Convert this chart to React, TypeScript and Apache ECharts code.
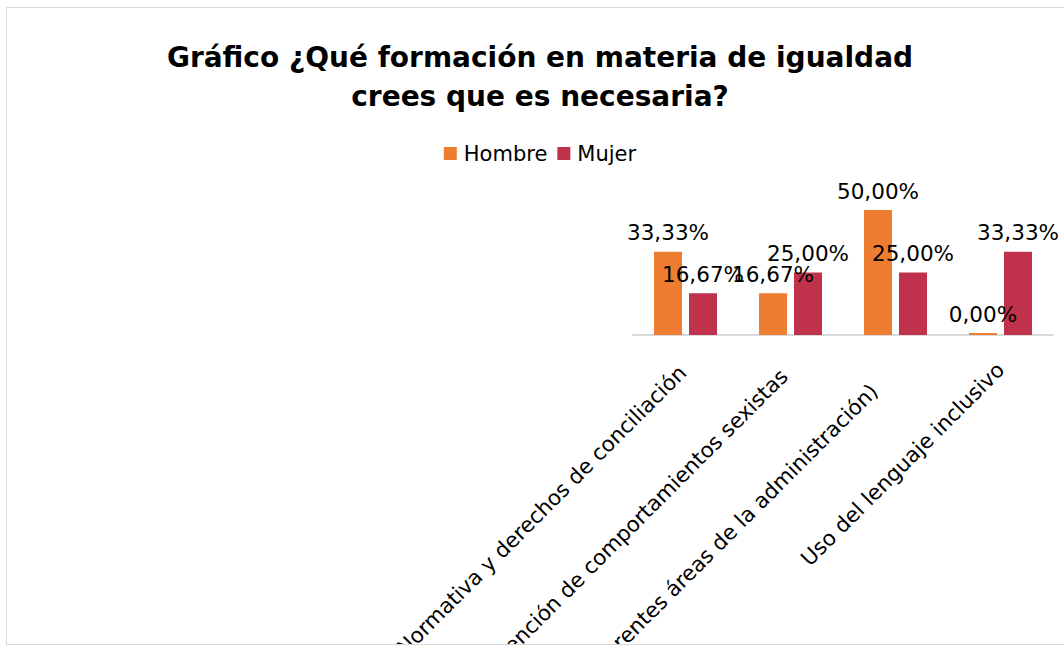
import React, { useEffect, useRef } from "react";
import * as echarts from "echarts";

const categories = [
  "Normativa y derechos de conciliación",
  "Prevención de comportamientos sexistas",
  "Específica (diferentes áreas de la administración)",
  "Uso del lenguaje inclusivo",
];
const hombre = [0.3333, 0.1667, 0.5, 0];
const mujer = [0.1667, 0.25, 0.25, 0.3333];
const seriesNames = ["Hombre", "Mujer"];
const titleText = "Gráfico ¿Qué formación en materia de igualdad\ncrees que es necesaria?";
// extra vertical drop (px) of each rotated category label, as in the reference
const labelDrop = [6, 13, 43, 0];

const fmt = (v: number) => (v * 100).toFixed(2).replace(".", ",") + "%";

export default function App() {
  const ref = useRef<HTMLDivElement>(null);
  useEffect(() => {
    if (!ref.current) return;
    const chart = echarts.init(ref.current, undefined, { renderer: "svg" });
    const font = "DejaVu Sans";
    const label = {
      show: true,
      position: "top",
      distance: 8,
      formatter: (p: any) => fmt(p.value),
      fontFamily: font,
      fontSize: 21.5,
      color: "#000",
    };
    const k = Math.SQRT1_2;
    const catData = categories.map((c, i) => ({
      value: c,
      textStyle: { padding: [2 * k * labelDrop[i], k * labelDrop[i], 0, 0] },
    }));
    chart.setOption({
      animation: false,
      backgroundColor: "#fff",
      title: {
        text: titleText,
        left: "center",
        top: 25,
        textStyle: {
          fontFamily: font,
          fontWeight: "bold",
          fontSize: 28,
          lineHeight: 39,
          color: "#000",
        },
      },
      legend: {
        data: seriesNames,
        top: 130,
        left: "center",
        itemWidth: 13,
        itemHeight: 13,
        itemGap: 10,
        icon: "rect",
        textStyle: { fontFamily: font, fontSize: 21, color: "#000", padding: [0, 0, 0, 2] },
      },
      grid: {
        left: 626,
        right: 20,
        top: 177,
        bottom: 309,
        containLabel: false,
        outerBoundsMode: "none",
      },
      xAxis: {
        type: "category",
        data: catData,
        axisLine: { lineStyle: { color: "#D9D9D9", width: 2 } },
        axisTick: { show: false },
        axisLabel: {
          rotate: 45,
          interval: 0,
          margin: 31,
          fontFamily: font,
          fontSize: 21.3,
          color: "#000",
        },
      },
      yAxis: {
        type: "value",
        min: 0,
        max: 0.6,
        show: false,
        splitLine: { show: false },
      },
      series: [
        {
          name: seriesNames[0],
          type: "bar",
          data: hombre,
          barWidth: 28,
          barGap: "25%",
          barMinHeight: 2,
          itemStyle: { color: "#ED7D31" },
          label,
        },
        {
          name: seriesNames[1],
          type: "bar",
          data: mujer,
          barWidth: 28,
          barGap: "25%",
          itemStyle: { color: "#C0324B" },
          label,
        },
      ],
    });
    return () => chart.dispose();
  }, []);
  return (
    <div
      style={{
        position: "absolute",
        left: 6,
        top: 7,
        width: 1058,
        height: 636,
        overflow: "hidden",
        border: "1px solid #D9D9D9",
        borderRight: "none",
      }}
    >
      <div ref={ref} style={{ width: 1066, height: 636 }} />
    </div>
  );
}
